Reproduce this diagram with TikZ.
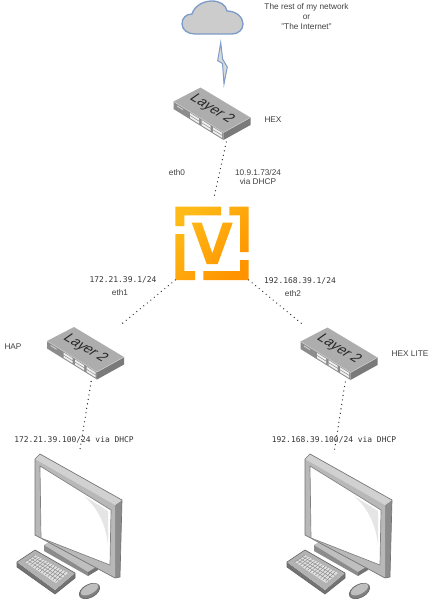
\documentclass[tikz,border=0pt]{standalone}
\usepackage{fontspec}
\setmainfont{Liberation Sans}
\setmonofont{DejaVu Sans Mono}
\definecolor{cloudline}{rgb}{0.49,0.61,0.79}
\definecolor{logotop}{rgb}{1,0.73,0.09}
\definecolor{logoend}{rgb}{1,0.58,0}
\tikzset{every picture/.style={line width=0.75pt}}
\tikzset{
  every pic/.style={yscale=-1},
  link/.style={line width=1pt,dash pattern={on 0pt off 3.4pt},line cap=round,black!85},
  swbox/.style={inner sep=0,outer sep=0,minimum width=52.5pt,minimum height=48pt},
  pcbox/.style={inner sep=0,outer sep=0,minimum width=82.5pt,minimum height=109.5pt},
  logobox/.style={inner sep=0,outer sep=0,minimum width=55pt,minimum height=55pt},
  lbl/.style={font=\fontsize{6.2}{7.2}\selectfont,align=center,text=black!75},
  addr/.style={font=\ttfamily\fontsize{5.95}{7}\selectfont,text=black!80},
  pics/layertwo/.style={code={
    %Shape: front and side
    \fill [black!45] (-38.5,-8.5) -- (11.5,22.5) -- (11.5,30) -- (-38.5,-1) -- cycle ;
    \fill [black!52] (11.5,22.5) -- (38.5,7.5) -- (38.5,15) -- (11.5,30) -- cycle ;
    %Shape: top face
    \fill [black!32] (-38.5,-8.5) -- (-11.5,-22.5) -- (38.5,7.5) -- (11.5,22.5) -- cycle ;
    \draw [black!20,line width=0.4pt] (-38.5,-8.5) -- (11.5,22.5) -- (38.5,7.5) ;
    %Shape: ports
    \fill [black!20] (-35,-4.6) -- ++(6,3.7) -- ++(0,1.2) -- ++(-6,-3.7) -- cycle ;
    \foreach \g in {-22,-10.5,1} {
      \foreach \r in {1.2,4.2} {
        \fill [black!6] (\g,{-8.5+(\g+38.5)*0.62+\r}) -- ++(9,5.6) -- ++(0,2.1) -- ++(-9,-5.6) -- cycle ;
      }
    }
    \node (-name) [rotate=-31,xslant=0.25,font=\itshape\fontsize{10.4}{12}\selectfont,text=black!85] at (0,-1) {Layer 2};
  }},
  pics/desktop/.style={code={
    \begin{scope}[shift={(-68,-525)}]
    %Shape: stand
    \fill [black!25] (44,545) -- (52,540) -- (100,568) -- (88,572) -- cycle ;
    \fill [black!45] (44,545) -- (88,572) -- (88,576) -- (44,551) -- cycle ;
    \fill [black!55] (88,572) -- (98,566) -- (98,570) -- (88,576) -- cycle ;
    %Shape: monitor
    \fill [black!45] (115,505) -- (122,500) -- (120,577) -- (115,578) -- cycle ;
    \fill [black!18] (35,459) -- (40,454) -- (122,500) -- (115,505) -- cycle ;
    \fill [black!28] (35,459) -- (115,505) -- (115,578) -- (35,535) -- cycle ;
    \draw [black!55,line width=0.5pt] (35,459) -- (40,454) -- (122,500) -- (120,577) -- (115,578) -- (35,535) -- cycle ;
    %Shape: screen
    \fill [white] (40,466) -- (111,510) -- (110,565) -- (41,538) -- cycle ;
    \fill [black!10] (84,496) -- (108,511) -- (108,545) .. controls (106,525) and (98,508) .. (84,496) -- cycle ;
    \draw [black!50,line width=0.5pt] (40,466) -- (111,510) -- (110,565) -- (41,538) -- cycle ;
    %Shape: keyboard
    \fill [black!55] (17,562) -- (55,590) -- (75,573) -- (75,578) -- (55,594) -- (17,567) -- cycle ;
    \fill [black!30] (17,562) -- (35,550) -- (75,573) -- (55,590) -- cycle ;
    \draw [black!60,line width=0.5pt] (17,562) -- (35,550) -- (75,573) -- (75,578) -- (55,594) -- (17,567) -- cycle ;
    \fill [black!12] (25,562) -- (35,555) -- (68,573) -- (56,583) -- cycle ;
    \foreach \k in {0,...,12} {
      \draw [black!45,line width=0.35pt] (25+\k*2.54,562+\k*1.62) -- (35+\k*2.54,555+\k*1.38) ;
    }
    \foreach \k in {1,...,3} {
      \draw [black!45,line width=0.35pt] (25+\k*2.5,562-\k*1.75) -- (56+\k*3,583-\k*2.5) ;
    }
    %Shape: mouse
    \draw [black!60,fill=black!50,line width=0.5pt,rotate around={-28:(89.5,591)}] (89.5,591) ellipse (11 and 6.5) ;
    \fill [black!25,rotate around={-28:(89.5,589.5)}] (89.5,589.5) ellipse (9.5 and 4.5) ;
    \end{scope}
  }},
}
\begin{document}
\begin{tikzpicture}[x=0.75pt,y=0.75pt,yscale=-1,xscale=1]
    \useasboundingbox (0,0) rectangle (434,600);

    %Shape: Cloud
    \draw [cloudline,fill=black!20,line width=1pt] (195,34) .. controls (188,34) and (182,30) .. (182,24) .. controls (182,18) and (186,14) .. (192,14) .. controls (194,7) and (202,1) .. (212,1) .. controls (220,1) and (226,5) .. (227,11) .. controls (236,11) and (243,17) .. (243,24) .. controls (243,30) and (238,34) .. (232,34) -- cycle ;
    %Shape: Bolt
    \draw [cloudline,fill=black!15,line width=0.75pt] (220.7,42.7) -- (217.7,60.7) -- (222.5,63.5) -- (224,84) -- (227.3,67) -- (222.7,59.3) -- cycle ;

    %Shape: Logo
    \shade [left color=logotop,right color=logoend,shading angle=45]
      (175.3,206.7) -- (221,206.7) -- (221,215.3) -- (184.3,215.3) -- (184.3,226) -- (175.3,226) -- cycle
      (229.3,206.7) -- (248.7,206.7) -- (248.7,252) -- (240,252) -- (240,215.3) -- (229.3,215.3) -- cycle
      (248.7,260) -- (248.7,280) -- (203.3,280) -- (203.3,271) -- (240,271) -- (240,260) -- cycle
      (175.3,234) -- (184.3,234) -- (184.3,271) -- (195,271) -- (195,280) -- (175.3,280) -- cycle
      (191.7,222.7) -- (201.7,222.7) -- (212.3,253.3) -- (222.7,222.7) -- (232.7,222.7) -- (217.7,264) -- (206.7,264) -- cycle ;
    \node (vyos) [logobox] at (212,243.3) {};

    %Switches
    \pic (hexicon) at (212,110) {layertwo};
    \node (hex) [swbox] at (212,110) {};
    \pic (hapicon) at (85.5,349.5) {layertwo};
    \node (hap) [swbox] at (85.5,349.5) {};
    \pic (liteicon) at (339,350) {layertwo};
    \node (hexlite) [swbox] at (339,350) {};

    %Computers
    \pic (pcleft) at (68,525) {desktop};
    \node (pca) [pcbox] at (68,525) {};
    \pic (pcright) at (338,525) {desktop};
    \node (pcb) [pcbox] at (338,525) {};

    %Straight Lines
    \draw [link,shorten >=6.5pt] (hex.-66) -- (vyos.north) ;
    \draw [link] (vyos.south west) -- (hap.35) ;
    \draw [link] (vyos.south east) -- (hexlite.145) ;
    \draw [link] (hap.-80) -- (pca.81) ;
    \draw [link] (hexlite.-79) -- (pcb.93) ;

    % Text Node
    \draw (306.5,16.5) node (cloudtext) [lbl] {The rest of my network\\or\\"The Internet"};
    % Text Node
    \draw (273,120) node (hextext) [lbl] {HEX};
    % Text Node
    \draw (177,173) node (ethzero) [lbl] {eth0};
    % Text Node
    \draw (258,177) node (wanaddr) [lbl] {10.9.1.73/24\\via DHCP};
    % Text Node
    \draw (123,280) node (ethoneaddr) [addr] {172.21.39.1/24};
    % Text Node
    \draw (120,293) node (ethone) [lbl] {eth1};
    % Text Node
    \draw (300,281) node (ethtwoaddr) [addr] {192.168.39.1/24};
    % Text Node
    \draw (293,294) node (ethtwo) [lbl] {eth2};
    % Text Node
    \draw (13,347) node (haptext) [lbl] {HAP};
    % Text Node
    \draw (410,354) node (litetext) [lbl] {HEX LITE};
    % Text Node
    \draw (74,440) node (pcaaddr) [addr] {172.21.39.100/24 via DHCP};
    % Text Node
    \draw (334,440) node (pcbaddr) [addr] {192.168.39.100/24 via DHCP};
\end{tikzpicture}
\end{document}
